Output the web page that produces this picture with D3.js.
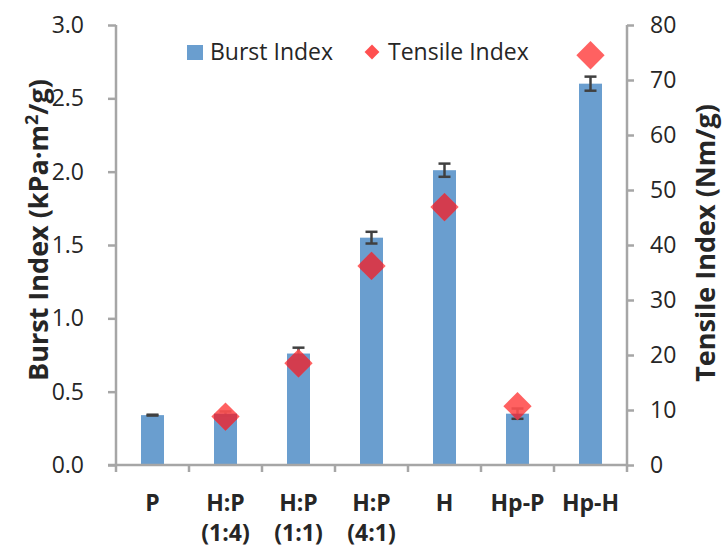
<!DOCTYPE html>
<html>
<head>
<meta charset="utf-8">
<script src="https://cdn.jsdelivr.net/npm/d3@7"></script>
<style>
body { margin: 0; background: #fff; }
text { font-family: "Open Sans", sans-serif; fill: #262626; }
</style>
</head>
<body>
<script>

var categories = ["P", "H:P\n(1:4)", "H:P\n(1:1)", "H:P\n(4:1)", "H", "Hp-P", "Hp-H"]
var burst = [0.34, 0.35, 0.76, 1.55, 2.01, 0.35, 2.60]
var burstErr = [0.003, 0.015, 0.04, 0.04, 0.045, 0.035, 0.048]
var tensile = [null, 8.8, 18.5, 36.2, 46.9, 10.7, 74.5]
var leftTicks = [0, 0.5, 1.0, 1.5, 2.0, 2.5, 3.0]
var rightTicks = [0, 10, 20, 30, 40, 50, 60, 70, 80]

var plotLeft = 116, plotRight = 627, plotTop = 25, plotBottom = 465

var svg = d3.select("body").append("svg")
  .attr('width', 724)
  .attr('height', 547)

var x = d3.scaleBand()
  .domain(categories)
  .range([plotLeft, plotRight])
  .paddingInner(0.685)
  .paddingOuter(0.3425)

var y = d3.scaleLinear().domain([0, 3]).range([plotBottom, plotTop])
var y2 = d3.scaleLinear().domain([0, 80]).range([plotBottom, plotTop])

var axisColor = "#a6a6a6"

// bars
svg.append("g").selectAll("rect")
  .data(burst)
  .enter().append("rect")
  .attr('x', function(d, i) { return x(categories[i]) })
  .attr('width', x.bandwidth())
  .attr('y', function(d) { return y(d) })
  .attr('height', function(d) { return plotBottom - y(d) })
  .attr('fill', "#6a9ecf")

// clip for the darker diamond part over bars
svg.append("clipPath").attr('id', 'barclip')
  .selectAll("rect")
  .data(burst)
  .enter().append("rect")
  .attr('x', function(d, i) { return x(categories[i]) })
  .attr('width', x.bandwidth())
  .attr('y', function(d) { return y(d) })
  .attr('height', function(d) { return plotBottom - y(d) })

// error bars
var eb = svg.append("g").attr('stroke', "#404040").attr('stroke-width', 2.5)
burst.forEach(function(d, i) {
  var cx = x(categories[i]) + x.bandwidth() / 2
  var e = burstErr[i]
  eb.append("line").attr('x1', cx).attr('x2', cx).attr('y1', y(d - e)).attr('y2', y(d + e))
  eb.append("line").attr('x1', cx - 6).attr('x2', cx + 6).attr('y1', y(d - e)).attr('y2', y(d - e))
  eb.append("line").attr('x1', cx - 6).attr('x2', cx + 6).attr('y1', y(d + e)).attr('y2', y(d + e))
})

// diamonds
var diamond = d3.symbol().type(d3.symbolSquare).size(400)
var pts = tensile.map(function(d, i) { return {v: d, c: categories[i]} })
  .filter(function(p) { return p.v != null })

function diamonds(g, color, op) {
  g.selectAll("path")
    .data(pts)
    .enter().append("path")
    .attr('d', diamond)
    .attr('transform', function(p) {
      return "translate(" + (x(p.c) + x.bandwidth() / 2) + "," + y2(p.v) + ") rotate(45)"
    })
    .attr('fill', color)
    .attr('fill-opacity', op)
}
diamonds(svg.append("g"), "#ff5050", 0.9)
diamonds(svg.append("g").attr('clip-path', 'url(#barclip)'), "#cf3a4c", 0.9)

// left axis
var gl = svg.append("g")
  .attr('transform', "translate(" + plotLeft + ",0)")
  .call(d3.axisLeft(y).tickValues(leftTicks).tickFormat(d3.format(".1f")).tickSize(8).tickPadding(24))
gl.selectAll(".domain").attr('stroke', axisColor).attr('stroke-width', 2.5)
  .attr('d', "M0," + plotTop + "V" + plotBottom)
gl.selectAll(".tick line").attr('stroke', axisColor).attr('stroke-width', 2.5)
gl.selectAll(".tick text").style('font-size', "23px").style('font-family', '"Open Sans", sans-serif').attr('fill', "#262626")

// right axis
var gr = svg.append("g")
  .attr('transform', "translate(" + plotRight + ",0)")
  .call(d3.axisRight(y2).tickValues(rightTicks).tickSize(7).tickPadding(16))
gr.selectAll(".domain").attr('stroke', axisColor).attr('stroke-width', 2.5)
  .attr('d', "M0," + plotTop + "V" + plotBottom)
gr.selectAll(".tick line").attr('stroke', axisColor).attr('stroke-width', 2.5)
gr.selectAll(".tick text").style('font-size', "23px").style('font-family', '"Open Sans", sans-serif').attr('fill', "#262626")

// x axis
var gx = svg.append("g")
gx.append("line").attr('x1', plotLeft - 8).attr('x2', plotRight).attr('y1', plotBottom).attr('y2', plotBottom)
  .attr('stroke', axisColor).attr('stroke-width', 2.5)
d3.range(categories.length + 1).forEach(function(i) {
  var tx = x.range()[0] + i * x.step()
  gx.append("line").attr('x1', tx).attr('x2', tx).attr('y1', plotBottom).attr('y2', plotBottom + 7)
    .attr('stroke', axisColor).attr('stroke-width', 2.5)
})
categories.forEach(function(c) {
  var t = gx.append("text")
    .attr('x', x(c) + x.bandwidth() / 2)
    .attr('y', 511)
    .attr('text-anchor', "middle")
    .style('font-size', "23px")
    .style('font-weight', "bold")
  c.split("\n").forEach(function(line, k) {
    t.append("tspan").attr('x', x(c) + x.bandwidth() / 2).attr('dy', k == 0 ? 0 : 30).text(line)
  })
})

// axis titles
var lt = svg.append("text")
  .attr('transform', "translate(48,230) rotate(-90)")
  .attr('text-anchor', "middle")
  .style('font-size', "27px")
  .style('font-weight', "bold")
lt.append("tspan").text("Burst Index (kPa·m")
lt.append("tspan").attr('dy', -10).style('font-size', "18px").text("2")
lt.append("tspan").attr('dy', 10).text("/g)")

svg.append("text")
  .attr('transform', "translate(715,243) rotate(-90)")
  .attr('text-anchor', "middle")
  .style('font-size', "27px")
  .style('font-weight', "bold")
  .text("Tensile Index (Nm/g)")

// legend
svg.append("rect").attr('x', 187).attr('y', 45).attr('width', 16).attr('height', 15).attr('fill', "#6a9ecf")
svg.append("text").attr('x', 210).attr('y', 60).style('font-size', "23px").text("Burst Index")
svg.append("path")
  .attr('d', d3.symbol().type(d3.symbolSquare).size(110))
  .attr('transform', "translate(372,52) rotate(45)")
  .attr('fill', "#ff5050")
svg.append("text").attr('x', 388).attr('y', 60).style('font-size', "23px").text("Tensile Index")

</script>
</body>
</html>
